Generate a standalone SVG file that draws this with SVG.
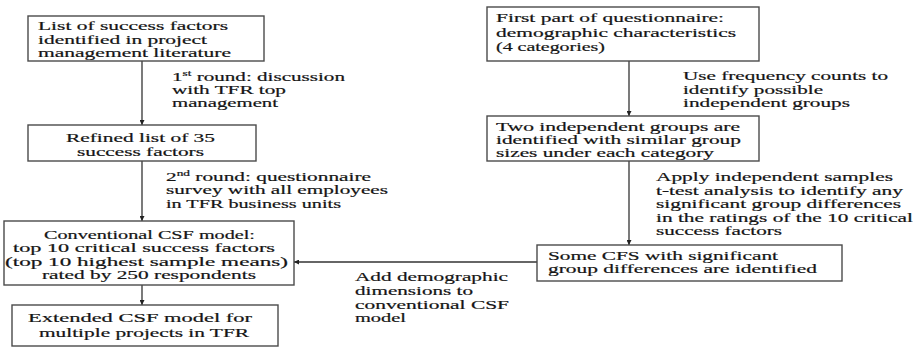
<svg xmlns="http://www.w3.org/2000/svg" width="915" height="347" viewBox="0 0 915 347" font-family="'Liberation Serif', 'Times New Roman', serif">
<style>
.box{fill:#fff;stroke:#4a4a4a;stroke-width:1.4}
text{font-family:'Liberation Serif','Times New Roman',serif;font-size:12.8px;fill:#151515;stroke:#151515;stroke-width:0.2}
.ln{stroke:#333;stroke-width:1.3;fill:none}
.sup{font-size:8px}
</style>
<defs>
<marker id="ah" viewBox="0 0 10 10" refX="10" refY="5" markerWidth="5" markerHeight="5" orient="auto" markerUnits="userSpaceOnUse">
<path d="M0,0 L10,5 L0,10 z" fill="#222"/>
</marker>
</defs>
<rect width="915" height="347" fill="#fff"/>
<g id="connectors">
<line class="ln" x1="142" y1="61" x2="142" y2="125" marker-end="url(#ah)"/>
<line class="ln" x1="142" y1="161" x2="142" y2="221" marker-end="url(#ah)"/>
<line class="ln" x1="142" y1="285" x2="142" y2="305" marker-end="url(#ah)"/>
<line class="ln" x1="629" y1="61" x2="629" y2="116" marker-end="url(#ah)"/>
<line class="ln" x1="629" y1="161" x2="629" y2="245" marker-end="url(#ah)"/>
<line class="ln" x1="537" y1="262" x2="294" y2="262" marker-end="url(#ah)"/>
<text x="172" y="81" textLength="173" lengthAdjust="spacingAndGlyphs">1<tspan class="sup" dy="-5">st</tspan><tspan dy="5"> round: discussion</tspan></text>
<text x="172" y="94" textLength="114" lengthAdjust="spacingAndGlyphs">with TFR top</text>
<text x="172" y="107" textLength="106" lengthAdjust="spacingAndGlyphs">management</text>
<text x="166" y="181" textLength="205" lengthAdjust="spacingAndGlyphs">2<tspan class="sup" dy="-5">nd</tspan><tspan dy="5"> round: questionnaire</tspan></text>
<text x="166" y="194" textLength="222" lengthAdjust="spacingAndGlyphs">survey with all employees</text>
<text x="166" y="208" textLength="175" lengthAdjust="spacingAndGlyphs">in TFR business units</text>
<text x="683" y="80" textLength="205" lengthAdjust="spacingAndGlyphs">Use frequency counts to</text>
<text x="683" y="94" textLength="140" lengthAdjust="spacingAndGlyphs">identify possible</text>
<text x="683" y="107" textLength="167" lengthAdjust="spacingAndGlyphs">independent groups</text>
<text x="656" y="181" textLength="237" lengthAdjust="spacingAndGlyphs">Apply independent samples</text>
<text x="656" y="195" textLength="247" lengthAdjust="spacingAndGlyphs">t-test analysis to identify any</text>
<text x="656" y="208" textLength="245" lengthAdjust="spacingAndGlyphs">significant group differences</text>
<text x="656" y="222" textLength="257" lengthAdjust="spacingAndGlyphs">in the ratings of the 10 critical</text>
<text x="656" y="235" textLength="126" lengthAdjust="spacingAndGlyphs">success factors</text>
<text x="355" y="281" textLength="153" lengthAdjust="spacingAndGlyphs">Add demographic</text>
<text x="355" y="295" textLength="118" lengthAdjust="spacingAndGlyphs">dimensions to</text>
<text x="355" y="309" textLength="154" lengthAdjust="spacingAndGlyphs">conventional CSF</text>
<text x="355" y="322" textLength="51" lengthAdjust="spacingAndGlyphs">model</text>
</g>
<g id="n1">
<rect class="box" x="28" y="16" width="236" height="45"/>
<text x="38" y="30" textLength="190" lengthAdjust="spacingAndGlyphs">List of success factors</text>
<text x="38" y="44" textLength="169" lengthAdjust="spacingAndGlyphs">identified in project</text>
<text x="38" y="57" textLength="193" lengthAdjust="spacingAndGlyphs">management literature</text>
</g>
<g id="n2">
<rect class="box" x="28" y="125" width="228" height="36"/>
<text x="66" y="142" textLength="149" lengthAdjust="spacingAndGlyphs">Refined list of 35</text>
<text x="77" y="156" textLength="127" lengthAdjust="spacingAndGlyphs">success factors</text>
</g>
<g id="n3">
<rect class="box" x="4" y="221" width="290" height="64"/>
<text x="44" y="239" textLength="211" lengthAdjust="spacingAndGlyphs">Conventional CSF model:</text>
<text x="13" y="252" textLength="262" lengthAdjust="spacingAndGlyphs">top 10 critical success factors</text>
<text x="5" y="266" textLength="283" lengthAdjust="spacingAndGlyphs">(top 10 highest sample means)</text>
<text x="42" y="279" textLength="214" lengthAdjust="spacingAndGlyphs">rated by 250 respondents</text>
</g>
<g id="n4">
<rect class="box" x="12" y="305" width="266" height="41"/>
<text x="28" y="322" textLength="224" lengthAdjust="spacingAndGlyphs">Extended CSF model for</text>
<text x="39" y="337" textLength="210" lengthAdjust="spacingAndGlyphs">multiple projects in TFR</text>
</g>
<g id="n5">
<rect class="box" x="487" y="7" width="272" height="54"/>
<text x="496" y="22" textLength="228" lengthAdjust="spacingAndGlyphs">First part of questionnaire:</text>
<text x="496" y="37" textLength="240" lengthAdjust="spacingAndGlyphs">demographic characteristics</text>
<text x="496" y="51" textLength="109" lengthAdjust="spacingAndGlyphs">(4 categories)</text>
</g>
<g id="n6">
<rect class="box" x="487" y="116" width="272" height="45"/>
<text x="496" y="131" textLength="244" lengthAdjust="spacingAndGlyphs">Two independent groups are</text>
<text x="496" y="144" textLength="245" lengthAdjust="spacingAndGlyphs">identified with similar group</text>
<text x="496" y="157" textLength="218" lengthAdjust="spacingAndGlyphs">sizes under each category</text>
</g>
<g id="n7">
<rect class="box" x="537" y="245" width="305" height="36"/>
<text x="548" y="260" textLength="230" lengthAdjust="spacingAndGlyphs">Some CFS with significant</text>
<text x="548" y="273" textLength="269" lengthAdjust="spacingAndGlyphs">group differences are identified</text>
</g>
</svg>
